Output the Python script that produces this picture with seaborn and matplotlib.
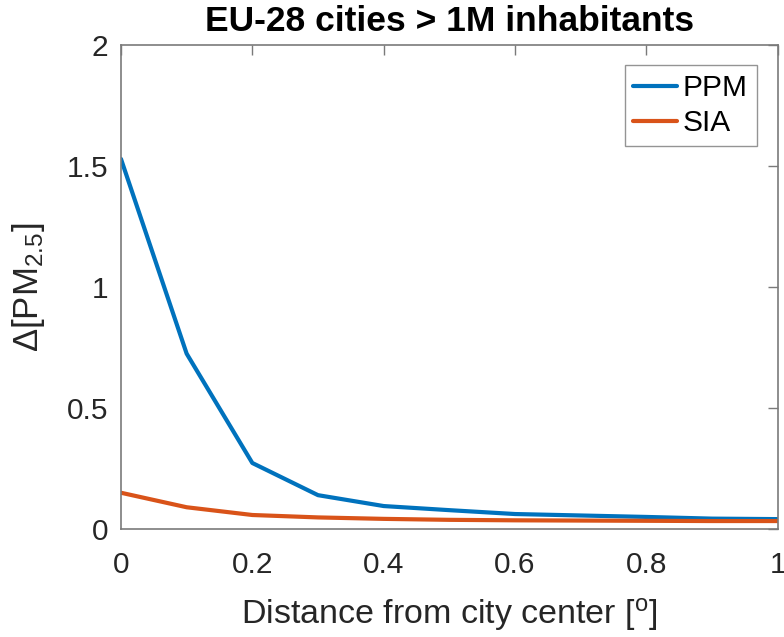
import numpy as np
import pandas as pd
import matplotlib
matplotlib.use("Agg")
import matplotlib.pyplot as plt
import seaborn as sns

# Distance from city centre (degrees) and mean PM2.5 change for each source attribution
distance = [0.0, 0.1, 0.2, 0.3, 0.4, 0.5, 0.6, 0.7, 0.8, 0.9, 1.0]
ppm = [1.53, 0.725, 0.273, 0.14, 0.095, 0.078, 0.062, 0.056, 0.05, 0.043, 0.041]
sia = [0.15, 0.09, 0.058, 0.048, 0.042, 0.038, 0.036, 0.035, 0.034, 0.033, 0.033]
series_names = ["PPM", "SIA"]
colors = ["#0072BD", "#D95319"]

x_ticks = [0, 0.2, 0.4, 0.6, 0.8, 1]
x_tick_labels = ["0", "0.2", "0.4", "0.6", "0.8", "1"]
y_ticks = [0, 0.5, 1, 1.5, 2]
y_tick_labels = ["0", "0.5", "1", "1.5", "2"]

df = pd.DataFrame({
    "distance": distance * 2,
    "value": ppm + sia,
    "species": [series_names[0]] * len(distance) + [series_names[1]] * len(distance),
})

sns.set_style("white")
plt.rcParams["font.family"] = ["Liberation Sans", "DejaVu Sans"]
plt.rcParams["mathtext.fontset"] = "custom"
plt.rcParams["mathtext.rm"] = "Liberation Sans"
plt.rcParams["mathtext.it"] = "Liberation Sans"
plt.rcParams["mathtext.default"] = "regular"

fig = plt.figure(figsize=(7.84, 6.37), dpi=100)
ax = fig.add_axes([0.1543, 0.1695, 0.8377, 0.7595])

sns.lineplot(data=df, x="distance", y="value", hue="species",
             palette=dict(zip(series_names, colors)), linewidth=3.0,
             ax=ax, legend=True)

ax.set_xlim(0, 1)
ax.set_ylim(0, 2)
ax.set_xticks(x_ticks)
ax.set_xticklabels(x_tick_labels)
ax.set_yticks(y_ticks)
ax.set_yticklabels(y_tick_labels)

axis_color = "#7a7a7a"
for s in ax.spines.values():
    s.set_visible(True)
    s.set_color(axis_color)
    s.set_linewidth(1.2)
ax.tick_params(direction="in", length=7, width=1.0, color=axis_color,
               top=True, right=True, labelsize=21.5, labelcolor="#262626")
ax.tick_params(axis="x", pad=16)
ax.tick_params(axis="y", pad=9)

ax.set_title("EU-28 cities > 1M inhabitants", fontsize=25.5, fontweight="bold",
             color="black", pad=10)
ax.set_xlabel("Distance from city center [$^{o}$]", fontsize=24.5, color="#262626", labelpad=12)
ax.set_ylabel("Δ[PM$_{2.5}$]", fontsize=25, color="#262626", labelpad=14)

leg = ax.legend(loc="upper right", fontsize=21.5, frameon=True, fancybox=False,
                handlelength=1.45, handletextpad=0.2, borderpad=0.3,
                labelspacing=0.25, borderaxespad=0,
                bbox_to_anchor=(0.968, 0.959))
leg.get_frame().set_edgecolor(axis_color)
leg.get_frame().set_linewidth(1.0)
for line in leg.get_lines():
    line.set_linewidth(3.0)
for text in leg.get_texts():
    text.set_color("black")
leg.set_title(None)

fig.savefig("out.png", dpi=100)
